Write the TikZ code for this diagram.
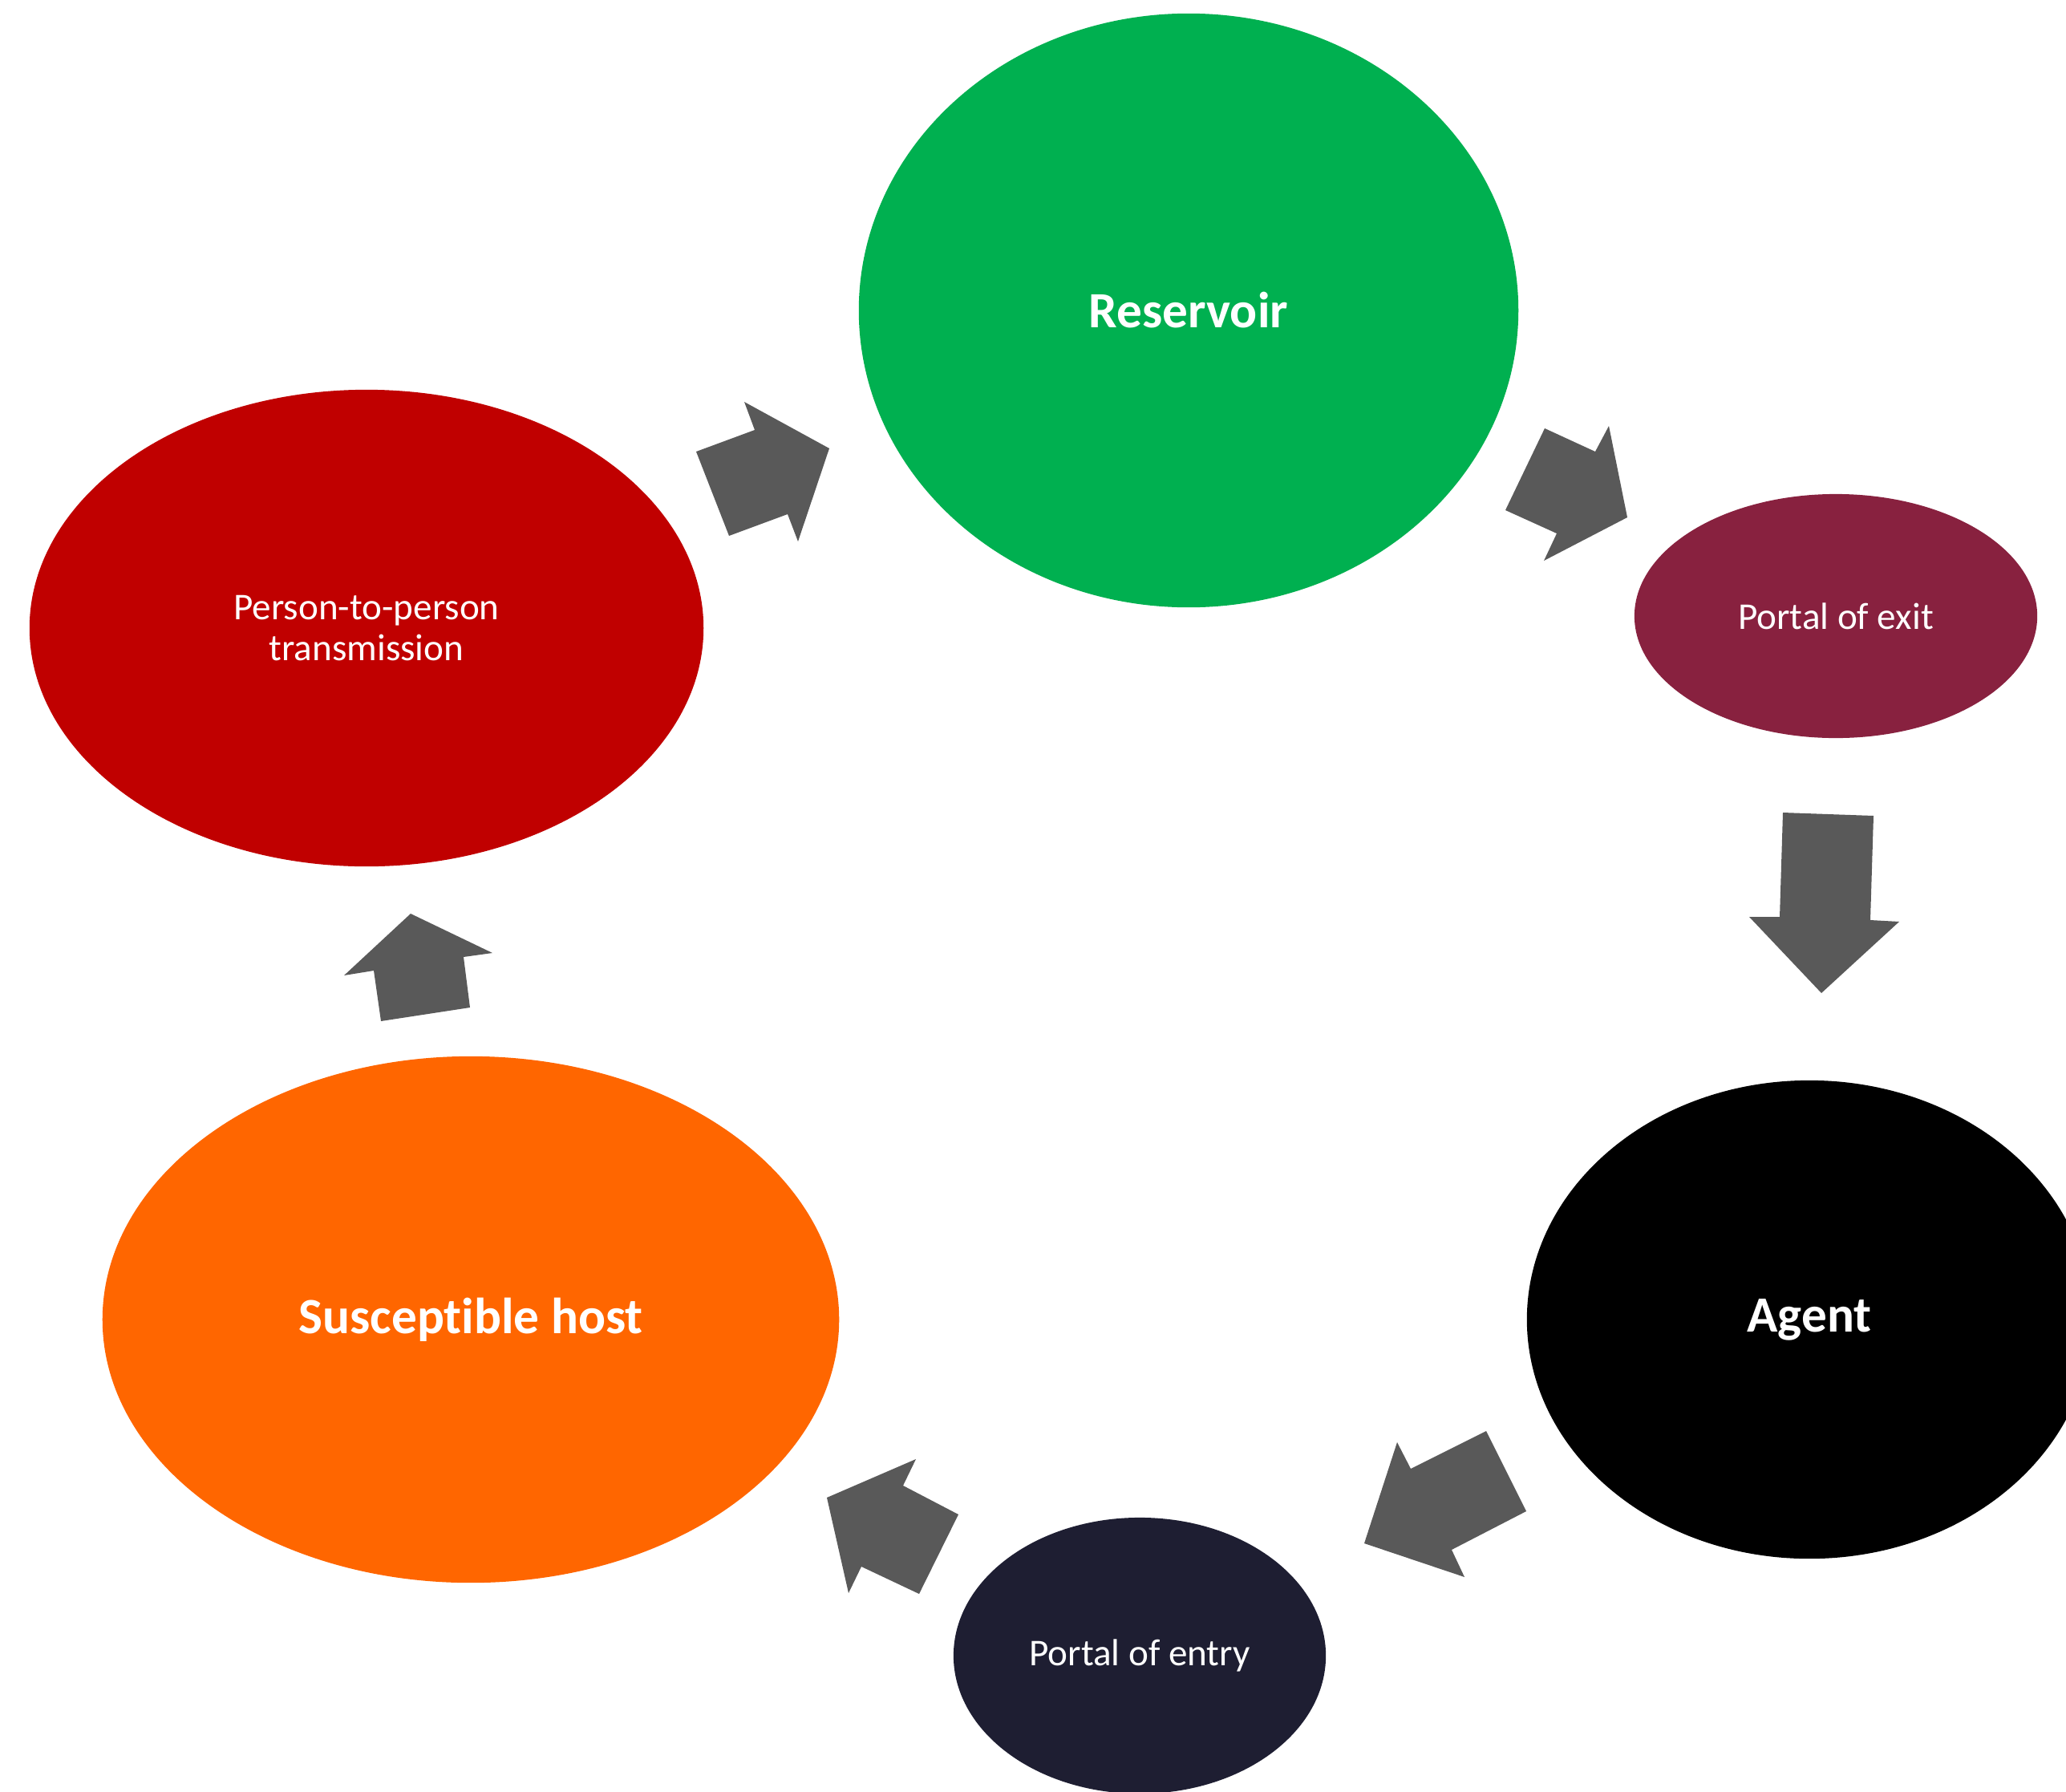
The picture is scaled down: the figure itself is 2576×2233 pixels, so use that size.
\documentclass[tikz,border=0pt]{standalone}
\usepackage{fontspec}
\setmainfont{Carlito}[Ligatures=NoCommon]
\usetikzlibrary{shapes.geometric}

\definecolor{resgreen}{HTML}{00B050}
\definecolor{exitred}{HTML}{88213F}
\definecolor{entrynavy}{HTML}{1E1E32}
\definecolor{hostorange}{HTML}{FF6600}
\definecolor{ptpred}{HTML}{C00000}
\definecolor{flowgray}{HTML}{595959}

\begin{document}
\begin{tikzpicture}[
    x=0.01cm, y=-0.01cm,
    blob/.style={ellipse, inner sep=0pt, text=white, align=center,
                 font=\fontsize{13.4}{14.5}\selectfont},
    bigblob/.style={blob, font=\fontsize{18}{20}\selectfont\bfseries},
    flow/.style={fill=flowgray}
  ]
    \useasboundingbox (0,0) rectangle (2576,2233);
    \clip (0,0) rectangle (2576,2233);

    % stages of the chain
    \node[bigblob, fill=resgreen, minimum width=8.22cm, minimum height=7.40cm]
      (res) at (1482,387) {Reservoir};
    \node[blob, fill=exitred, minimum width=5.02cm, minimum height=3.04cm]
      (exit) at (2289,768) {Portal of exit};
    \node[bigblob, fill=black, minimum width=7.04cm, minimum height=5.96cm]
      (agent) at (2256,1645) {Agent};
    \node[blob, fill=entrynavy, minimum width=4.64cm, minimum height=3.44cm]
      (entry) at (1421,2064) {Portal of entry};
    \node[bigblob, fill=hostorange, minimum width=9.18cm, minimum height=6.56cm]
      (host) at (587,1645) {Susceptible host};
    \node[blob, fill=ptpred, minimum width=8.40cm, minimum height=5.94cm]
      (ptp) at (457,783) {Person-to-person\\transmission};

    % block arrows between stages
    \fill[flow] (868,563) -- (941,536) -- (928,501) -- (1034,559) -- (995,675) -- (982,641) -- (909,668) -- cycle;
    \fill[flow] (1926,534) -- (1989,563) -- (2006,531) -- (2029,645) -- (1925,699) -- (1941,665) -- (1877,636) -- cycle;
    \fill[flow] (2223,1013) -- (2336,1017) -- (2332,1147) -- (2368,1149) -- (2271,1238) -- (2181,1143) -- (2219,1143) -- cycle;
    \fill[flow] (1853,1784) -- (1903,1884) -- (1810,1932) -- (1826,1966) -- (1701,1924) -- (1742,1798) -- (1759,1831) -- cycle;
    \fill[flow] (1195,1888) -- (1146,1987) -- (1074,1953) -- (1058,1986) -- (1031,1867) -- (1142,1819) -- (1126,1852) -- cycle;
    \fill[flow] (475,1273) -- (586,1256) -- (578,1193) -- (614,1188) -- (512,1139) -- (429,1216) -- (466,1210) -- cycle;
  \end{tikzpicture}
\end{document}
